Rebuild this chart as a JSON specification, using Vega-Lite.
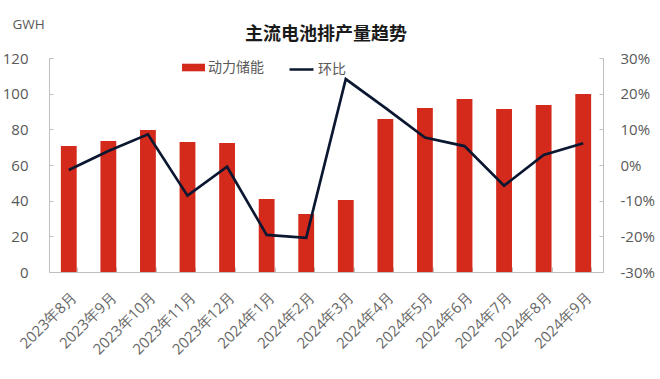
{
  "$schema": "https://vega.github.io/schema/vega-lite/v6.json",
  "autosize": {"type": "none"},
  "width": 554,
  "height": 214,
  "padding": {"left": 49, "top": 58, "right": 57, "bottom": 107},
  "background": "white",
  "config": {
    "view": {"stroke": null},
    "font": "Noto Sans CJK SC",
    "axis": {"labelFont": "Open Sans", "labelColor": "#595959", "domainColor": "#bfbfbf", "tickColor": "#bfbfbf", "grid": false}
  },
  "title": {"text": "主流电池排产量趋势", "fontSize": 18, "fontWeight": "bold", "color": "#1a1a1a", "font": "Noto Sans CJK SC", "anchor": "middle", "offset": -27},
  "data": {"values": [
    {"month": "2023年8月", "value": 70.7, "mom": -0.014},
    {"month": "2023年9月", "value": 73.5, "mom": 0.039},
    {"month": "2023年10月", "value": 79.6, "mom": 0.086},
    {"month": "2023年11月", "value": 72.9, "mom": -0.086},
    {"month": "2023年12月", "value": 72.3, "mom": -0.005},
    {"month": "2024年1月", "value": 41.0, "mom": -0.196},
    {"month": "2024年2月", "value": 32.5, "mom": -0.204},
    {"month": "2024年3月", "value": 40.4, "mom": 0.241},
    {"month": "2024年4月", "value": 85.8, "mom": 0.16},
    {"month": "2024年5月", "value": 92.0, "mom": 0.077},
    {"month": "2024年6月", "value": 97.0, "mom": 0.053},
    {"month": "2024年7月", "value": 91.4, "mom": -0.058},
    {"month": "2024年8月", "value": 93.7, "mom": 0.028},
    {"month": "2024年9月", "value": 99.8, "mom": 0.061}
  ]},
  "encoding": {
    "x": {"field": "month", "type": "nominal", "sort": null,
      "scale": {"paddingInner": 0.6, "paddingOuter": 0.3},
      "axis": {"title": null, "labelAngle": -45, "labelFontSize": 15, "labelColor": "#666666", "tickBand": "extent", "tickSize": -5, "labelPadding": 22}}
  },
  "layer": [
    {
      "mark": {"type": "bar", "color": "#d42a1c"},
      "encoding": {
        "y": {"field": "value", "type": "quantitative",
          "scale": {"domain": [0, 120]},
          "axis": {"values": [0, 20, 40, 60, 80, 100, 120], "labelFontSize": 15, "tickSize": -4, "labelPadding": 25,
            "title": "GWH", "titleAngle": 0, "titleAlign": "left", "titleBaseline": "middle", "titleX": -37, "titleY": -34, "titleFontSize": 13.5, "titleFont": "Open Sans", "titleFontWeight": "normal", "titleColor": "#595959"}},
        "fill": {"datum": "动力储能", "type": "nominal",
          "scale": {"range": ["#d42a1c"]},
          "legend": {"title": null, "orient": "none", "legendX": 133, "legendY": -2, "symbolType": "M-1,-0.33H1V0.33H-1Z", "symbolSize": 529, "symbolStrokeWidth": 0, "labelOffset": 3, "labelFontSize": 14, "labelColor": "#595959", "labelFont": "Noto Sans CJK SC"}}
      }
    },
    {
      "mark": {"type": "line", "strokeWidth": 2.7},
      "encoding": {
        "y": {"field": "mom", "type": "quantitative",
          "scale": {"domain": [-0.3, 0.3]},
          "axis": {"orient": "right", "values": [-0.3, -0.2, -0.1, 0, 0.1, 0.2, 0.3], "labelExpr": "replace(format(datum.value, '.0%'), '−', '-')", "labelFontSize": 15, "tickSize": -4, "labelPadding": 21, "title": null}},
        "stroke": {"datum": "环比", "type": "nominal",
          "scale": {"range": ["#0b1730"]},
          "legend": {"title": null, "orient": "none", "legendX": 239, "legendY": -2, "symbolType": "stroke", "symbolSize": 576, "symbolStrokeWidth": 2.5, "labelOffset": 3, "labelFontSize": 14, "labelColor": "#595959", "labelFont": "Noto Sans CJK SC"}}
      }
    }
  ],
  "resolve": {"scale": {"y": "independent", "fill": "independent", "stroke": "independent"}}
}
